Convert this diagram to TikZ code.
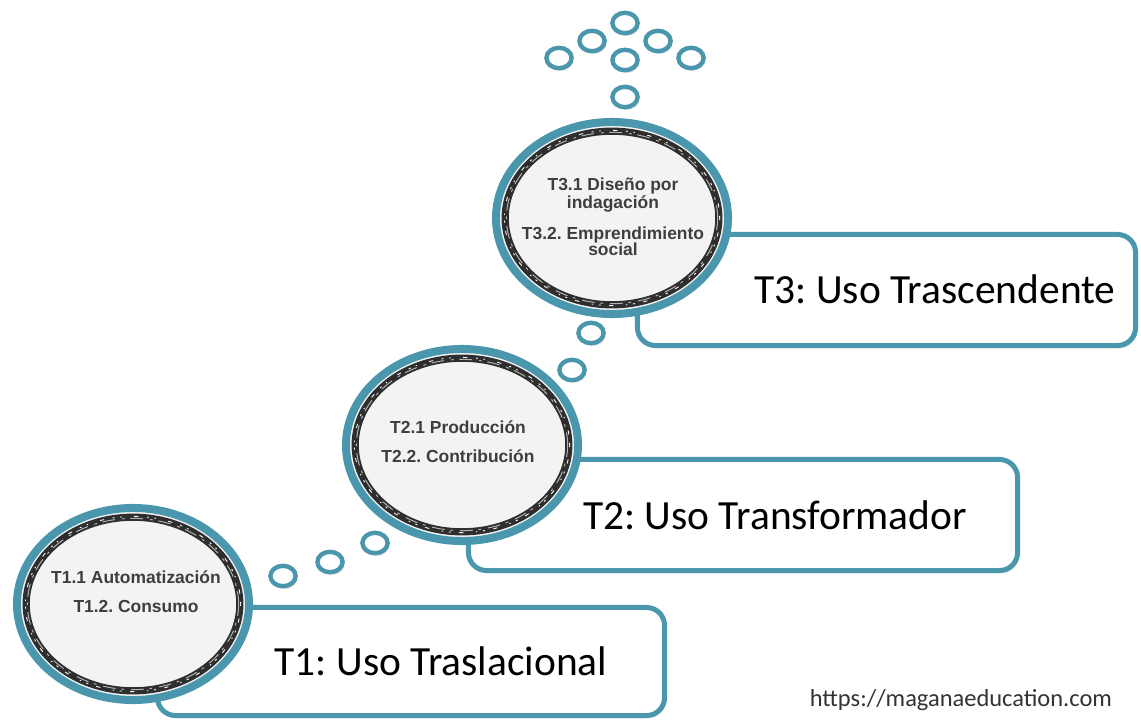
\documentclass[tikz,border=0pt]{standalone}
\usepackage{fontspec}
\setmainfont{Carlito}
\newfontfamily\labelfont{Liberation Sans}
\usetikzlibrary{shapes.geometric,shadows}

\definecolor{ringblue}{RGB}{74,151,173}
\definecolor{discgray}{RGB}{243,243,243}
\definecolor{inkgray}{RGB}{62,62,62}
\frenchspacing

\begin{document}
\begin{tikzpicture}[
  x=0.025cm, y=-0.025cm,
  soft/.style={drop shadow={opacity=0.22, shadow xshift=0.04cm, shadow yshift=-0.07cm}},
  panel/.style={draw=ringblue, line width=0.125cm, rounded corners=0.45cm, fill=white, soft},
  disc/.style={ellipse, draw=ringblue, line width=0.2cm, fill=discgray, inner sep=0pt,
    minimum width=5.8cm, minimum height=4.8cm, soft},
  ringdark/.style={draw=black!82, line width=0.18cm},
  ringspeck/.style={draw=white, line width=0.6pt, dash pattern=on 1.5pt off 6pt on 3pt off 9pt on 1pt off 4pt},
  ringgrain/.style={draw=gray!60, line width=0.7pt, dash pattern=on 9pt off 4pt on 2pt off 5pt},
  bubble/.style={ellipse, draw=ringblue, line width=0.11cm, fill=white, inner sep=0pt,
    minimum width=0.63cm, minimum height=0.51cm, soft},
  disclbl/.style={align=center, text=inkgray, font=\labelfont\bfseries\fontsize{12.4}{11.6}\selectfont},
  title/.style={anchor=base, font=\fontsize{29.5}{32}\selectfont}
]
\useasboundingbox (0,0) rectangle (1141,721);

% the three rounded panels sit behind the discs
\node[panel, minimum width=12.675cm, minimum height=2.7cm] (p1) at (411,661.5) {};
\node[panel, minimum width=13.725cm, minimum height=2.775cm] (p2) at (743,515) {};
\node[panel, minimum width=12.45cm, minimum height=2.775cm] (p3) at (886.5,290) {};

\node[title] (t1) at (441,675) {T1: Uso Traslacional};
\node[title] (t2) at (775,529) {T2: Uso Transformador};
\node[title] (t3) at (935,303) {T3: Uso Trascendente};

% discs with a dark worn ring inside the blue rim
\node[disc] (d1) at (133,604) {};
\node[disc] (d2) at (462,445) {};
\node[disc] (d3) at (612,218) {};

\draw[ringdark] (d1) ellipse [x radius=2.67cm, y radius=2.17cm];
\draw[ringdark] (d2) ellipse [x radius=2.67cm, y radius=2.17cm];
\draw[ringdark] (d3) ellipse [x radius=2.67cm, y radius=2.17cm];
\draw[ringgrain] (d1) ellipse [x radius=2.64cm, y radius=2.14cm];
\draw[ringgrain] (d2) ellipse [x radius=2.64cm, y radius=2.14cm];
\draw[ringgrain] (d3) ellipse [x radius=2.64cm, y radius=2.14cm];
\draw[ringspeck] (d1) ellipse [x radius=2.69cm, y radius=2.19cm];
\draw[ringspeck] (d2) ellipse [x radius=2.69cm, y radius=2.19cm];
\draw[ringspeck] (d3) ellipse [x radius=2.69cm, y radius=2.19cm];

\node[disclbl] (l1) at (136,592) {T1.1 Automatización\\[9pt]T1.2. Consumo};
\node[disclbl] (l2) at (458,442) {T2.1 Producción\\[9pt]T2.2. Contribución};
\node[disclbl] (l3) at (613,217) {T3.1 Diseño por\\indagación\\[9pt]T3.2. Emprendimiento\\social};

% small bubbles
\node[bubble] (b1) at (283,576) {};
\node[bubble] (b2) at (330,562) {};
\node[bubble] (b3) at (375,543) {};
\node[bubble] (b4) at (572,370) {};
\node[bubble] (b5) at (591,333) {};
\node[bubble] (b6) at (625,97) {};
\node[bubble] (b7) at (559,58) {};
\node[bubble] (b8) at (625,60) {};
\node[bubble] (b9) at (691,58) {};
\node[bubble] (b10) at (592,41) {};
\node[bubble] (b11) at (658,41) {};
\node[bubble] (b12) at (625,23) {};

\node[anchor=east, text=black!80, font=\fontsize{17.4}{20}\selectfont] (url) at (1117,700) {https://maganaeducation.com};
\end{tikzpicture}
\end{document}
